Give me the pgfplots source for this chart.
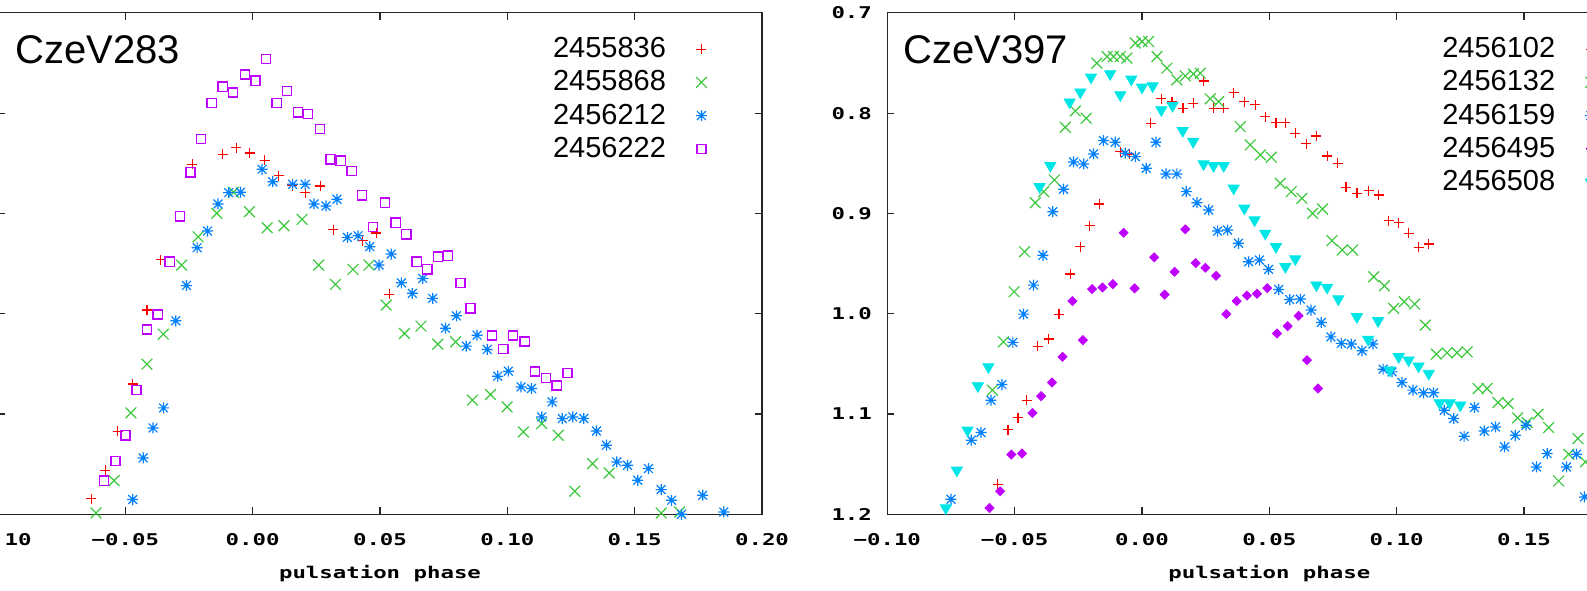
\documentclass[border=0pt]{standalone}
\usepackage{fontspec}
\usepackage{pgfplots}
\pgfplotsset{compat=1.18}
\setmainfont{Liberation Sans}
\newfontfamily\gpfont[FakeStretch=1.38]{DejaVu Sans Mono}
\newcommand\tickfont{\gpfont\bfseries\fontsize{8.1}{9}\selectfont}
\newcommand\legfont{\fontsize{14.5}{17}\selectfont}
\newcommand\titlefont{\fontsize{20}{24}\selectfont}
\definecolor{gpred}{RGB}{255,0,0}
\definecolor{gpgreen}{RGB}{60,200,60}
\definecolor{gpblue}{RGB}{0,128,255}
\definecolor{gppurple}{RGB}{192,0,255}
\definecolor{gpcyan}{RGB}{0,230,230}
\pgfdeclareplotmark{gpstar}{%
 \pgfpathmoveto{\pgfqpoint{-\pgfplotmarksize}{0pt}}\pgfpathlineto{\pgfqpoint{\pgfplotmarksize}{0pt}}%
 \pgfpathmoveto{\pgfqpoint{0pt}{-\pgfplotmarksize}}\pgfpathlineto{\pgfqpoint{0pt}{\pgfplotmarksize}}%
 \pgfpathmoveto{\pgfqpoint{-.8\pgfplotmarksize}{-.8\pgfplotmarksize}}\pgfpathlineto{\pgfqpoint{.8\pgfplotmarksize}{.8\pgfplotmarksize}}%
 \pgfpathmoveto{\pgfqpoint{-.8\pgfplotmarksize}{.8\pgfplotmarksize}}\pgfpathlineto{\pgfqpoint{.8\pgfplotmarksize}{-.8\pgfplotmarksize}}%
 \pgfusepathqstroke}
\pgfplotsset{
 gpaxis/.style={scale only axis, width=382pt, height=250.75pt, anchor=south west,
  xmin=-0.1, xmax=0.2, ymin=0.7, ymax=1.2, y dir=reverse,
  tick align=inside, major tick length=3.5pt,
  axis line style={line width=0.6pt, black!85}, every tick/.style={line width=0.6pt, black!85},
  xtick={-0.1,-0.05,0,0.05,0.1,0.15,0.2},
  xticklabels={−0.10,−0.05,0.00,0.05,0.10,0.15,0.20},
  ytick={0.7,0.8,0.9,1.0,1.1,1.2},
  ticklabel style={font=\tickfont},
  xticklabel style={anchor=base, inner sep=0pt, yshift=-15.5pt},
  yticklabel style={anchor=east, inner sep=0pt, xshift=-7.5pt},
  xlabel={pulsation phase},
  x label style={font=\tickfont, at={(axis description cs:0.5,0)}, anchor=base, inner sep=0pt, yshift=-32pt},
  legend cell align=right, legend plot pos=right,
  legend style={draw=none, fill=none, font=\legfont, at={(axis description cs:0.9285,0.9516)}, anchor=north east, inner sep=0pt, row sep=5pt, column sep=15pt, nodes={inner sep=0pt}},
 },
 pplus/.style={only marks, mark=+, color=gpred, mark size=2.5pt, mark options={line width=0.6pt}},
 pcross/.style={only marks, mark=x, color=gpgreen, mark size=3.8pt, mark options={line width=0.6pt}},
 pstar/.style={only marks, mark=gpstar, color=gpblue, mark size=2.75pt, mark options={line width=0.6pt}},
 psq/.style={only marks, mark=square, color=gppurple, mark size=2.3pt, mark options={line width=0.7pt}},
 pdia/.style={only marks, mark=square*, color=gppurple, mark size=1.6pt, mark options={rotate=45, fill=gppurple, draw=gppurple}},
 ptri/.style={only marks, mark=triangle*, color=gpcyan, mark size=3.2pt, mark options={rotate=180, fill=gpcyan, draw=gpcyan}},
}
\begin{document}
\begin{tikzpicture}
\path[use as bounding box] (0pt,0pt) rectangle (793.5pt,295pt);
\begin{axis}[gpaxis, at={(-1pt,37.85pt)}, yticklabels={}]
\addplot[pplus] coordinates {(-0.0065,0.8344)(-0.0118,0.8410)(-0.0012,0.8397)(-0.0237,0.8510)(0.0047,0.8470)(0.0102,0.8624)(0.0155,0.8724)(0.0206,0.8793)(0.0266,0.8727)(0.0316,0.9163)(0.0432,0.9272)(0.0485,0.9196)(-0.0361,0.9462)(0.0536,0.9807)(-0.0415,0.9964)(-0.0471,1.0700)(-0.0530,1.1172)(-0.0579,1.1561)(-0.0634,1.1843)};
\addlegendentry{2455836}
\addplot[pcross] coordinates {(-0.0141,0.8999)(-0.0013,0.8983)(-0.0075,0.8789)(0.0057,0.9143)(0.0123,0.9123)(0.0194,0.9059)(-0.0214,0.9233)(-0.0279,0.9515)(0.0259,0.9515)(0.0325,0.9708)(0.0394,0.9558)(0.0457,0.9515)(0.0524,0.9914)(-0.0351,1.0204)(-0.0415,1.0503)(-0.0478,1.0989)(-0.0544,1.1664)(-0.0615,1.1987)(0.0596,1.0197)(0.0661,1.0124)(0.0727,1.0303)(0.0797,1.0280)(0.0863,1.0862)(0.0934,1.0805)(0.0999,1.0929)(0.1063,1.1179)(0.1135,1.1095)(0.1200,1.1212)(0.1335,1.1494)(0.1400,1.1588)(0.1265,1.1770)(0.1604,1.1987)(0.1677,1.1977)};
\addlegendentry{2455868}
\addplot[pstar] coordinates {(0.0037,0.8560)(0.0079,0.8684)(0.0157,0.8710)(0.0206,0.8710)(-0.0094,0.8793)(-0.0048,0.8789)(-0.0136,0.8906)(0.0241,0.8906)(0.0288,0.8926)(0.0331,0.8859)(-0.0177,0.9176)(-0.0218,0.9342)(0.0372,0.9239)(0.0414,0.9223)(0.0460,0.9332)(0.0496,0.9515)(0.0544,0.9405)(-0.0260,0.9718)(0.0584,0.9692)(0.0668,0.9648)(0.0627,0.9797)(0.0707,0.9847)(0.0757,1.0144)(0.0800,1.0021)(0.0839,1.0323)(0.0881,1.0214)(0.0921,1.0356)(0.0962,1.0623)(0.1004,1.0573)(0.1054,1.0730)(0.1095,1.0746)(0.1176,1.0879)(0.1135,1.1029)(0.1216,1.1045)(0.1257,1.1029)(0.1300,1.1045)(0.1350,1.1169)(0.1389,1.1311)(0.1430,1.1478)(0.1472,1.1511)(0.1512,1.1661)(0.1554,1.1544)(0.1604,1.1754)(0.1645,1.1860)(0.1767,1.1810)(0.1850,1.1977)(0.1684,1.2000)(-0.0302,1.0071)(-0.0350,1.0939)(-0.0391,1.1139)(-0.0430,1.1438)(-0.0471,1.1853)};
\addlegendentry{2456212}
\addplot[psq] coordinates {(0.0053,0.7462)(-0.0030,0.7616)(0.0011,0.7676)(-0.0118,0.7736)(-0.0077,0.7795)(-0.0161,0.7901)(0.0135,0.7778)(0.0094,0.7901)(0.0178,0.7991)(0.0218,0.8008)(0.0265,0.8158)(-0.0203,0.8260)(0.0306,0.8460)(0.0346,0.8474)(0.0389,0.8577)(-0.0244,0.8590)(0.0430,0.8819)(0.0520,0.8893)(-0.0285,0.9029)(0.0562,0.9093)(0.0473,0.9136)(-0.0326,0.9482)(0.0603,0.9209)(0.0644,0.9482)(0.0686,0.9558)(0.0727,0.9432)(0.0767,0.9422)(0.0816,0.9692)(0.0855,0.9947)(0.0940,1.0217)(0.0984,1.0353)(0.1023,1.0217)(0.1068,1.0277)(0.1109,1.0576)(0.1152,1.0643)(0.1194,1.0716)(0.1236,1.0593)(-0.0373,1.0007)(-0.0415,1.0157)(-0.0456,1.0759)(-0.0499,1.1212)(-0.0539,1.1468)(-0.0584,1.1664)};
\addlegendentry{2456222}
\node[anchor=west, inner sep=0pt, font=\titlefont, xshift=8.5pt, yshift=-18.5pt] at (axis description cs:0,1) {CzeV283};
\end{axis}
\begin{axis}[gpaxis, at={(443.65pt,37.85pt)}, yticklabels={0.7,0.8,0.9,1.0,1.1,1.2}]
\addplot[pplus] coordinates {(0.0076,0.7858)(0.0118,0.7885)(0.0161,0.7951)(0.0201,0.7901)(0.0035,0.8101)(-0.0085,0.8384)(-0.0049,0.8407)(-0.0167,0.8906)(-0.0206,0.9123)(-0.0242,0.9332)(-0.0282,0.9605)(0.0242,0.7679)(0.0281,0.7951)(0.0321,0.7951)(0.0360,0.7795)(0.0402,0.7885)(0.0445,0.7918)(0.0484,0.8035)(0.0526,0.8095)(0.0563,0.8095)(0.0602,0.8201)(0.0645,0.8307)(0.0685,0.8228)(0.0727,0.8427)(0.0768,0.8500)(0.0801,0.8740)(0.0844,0.8799)(0.0890,0.8773)(0.0929,0.8816)(0.0969,0.9073)(0.1008,0.9093)(0.1047,0.9199)(0.1086,0.9338)(0.1126,0.9305)(-0.0326,1.0007)(-0.0367,1.0253)(-0.0410,1.0323)(-0.0452,1.0862)(-0.0487,1.1035)(-0.0526,1.1155)(-0.0567,1.1701)};
\addlegendentry{2456102}
\addplot[pcross] coordinates {(0.0000,0.7286)(0.0026,0.7286)(-0.0026,0.7302)(-0.0137,0.7436)(-0.0112,0.7436)(-0.0085,0.7436)(-0.0059,0.7452)(-0.0177,0.7502)(0.0059,0.7436)(0.0098,0.7552)(0.0137,0.7669)(0.0170,0.7629)(0.0202,0.7609)(0.0229,0.7602)(-0.0262,0.7978)(-0.0219,0.8051)(-0.0301,0.8141)(-0.0344,0.8667)(-0.0386,0.8783)(-0.0419,0.8893)(-0.0461,0.9382)(-0.0502,0.9781)(-0.0544,1.0280)(-0.0587,1.0762)(0.0268,0.7858)(0.0301,0.7885)(0.0386,0.8135)(0.0425,0.8317)(0.0465,0.8417)(0.0508,0.8440)(0.0543,0.8700)(0.0586,0.8783)(0.0628,0.8849)(0.0670,0.8999)(0.0709,0.8956)(0.0746,0.9272)(0.0786,0.9365)(0.0827,0.9365)(0.0910,0.9632)(0.0952,0.9722)(0.0988,0.9947)(0.1030,0.9881)(0.1071,0.9904)(0.1113,1.0114)(0.1156,1.0403)(0.1198,1.0390)(0.1237,1.0390)(0.1277,1.0380)(0.1320,1.0746)(0.1355,1.0746)(0.1398,1.0885)(0.1438,1.0895)(0.1475,1.1039)(0.1512,1.1085)(0.1555,1.1002)(0.1597,1.1135)(0.1636,1.1668)(0.1676,1.1401)(0.1712,1.1245)(0.1741,1.1478)};
\addlegendentry{2456132}
\addplot[pstar] coordinates {(-0.0151,0.8274)(-0.0105,0.8290)(-0.0066,0.8400)(-0.0026,0.8434)(-0.0190,0.8407)(-0.0229,0.8507)(-0.0269,0.8487)(0.0017,0.8550)(0.0055,0.8290)(0.0094,0.8607)(0.0137,0.8607)(0.0174,0.8783)(0.0216,0.8893)(-0.0308,0.8759)(-0.0350,0.8983)(-0.0389,0.9418)(-0.0426,0.9715)(0.0262,0.8966)(0.0297,0.9176)(0.0336,0.9166)(0.0379,0.9298)(0.0419,0.9482)(0.0461,0.9465)(0.0497,0.9558)(0.0537,0.9759)(0.0580,0.9859)(0.0622,0.9854)(0.0664,0.9964)(0.0704,1.0087)(0.0742,1.0231)(0.0783,1.0296)(0.0822,1.0303)(0.0864,1.0370)(0.0907,1.0303)(0.0947,1.0553)(0.0982,1.0580)(0.1021,1.0686)(0.1064,1.0762)(0.1106,1.0789)(0.1145,1.0789)(0.1187,1.0962)(0.1224,1.1045)(0.1265,1.1222)(0.1306,1.0935)(0.1344,1.1169)(0.1388,1.1129)(0.1424,1.1328)(0.1466,1.1212)(0.1508,1.1112)(0.1549,1.1528)(0.1591,1.1394)(0.1667,1.1528)(0.1706,1.1401)(0.1738,1.1827)(-0.0465,1.0004)(-0.0507,1.0286)(-0.0550,1.0706)(-0.0593,1.0862)(-0.0632,1.1185)(-0.0670,1.1261)(-0.0750,1.1850)};
\addlegendentry{2456159}
\addplot[pdia] coordinates {(-0.0072,0.9193)(0.0170,0.9159)(0.0048,0.9438)(0.0211,0.9495)(0.0128,0.9582)(-0.0196,0.9754)(-0.0155,0.9738)(-0.0114,0.9705)(-0.0029,0.9747)(0.0089,0.9809)(-0.0273,0.9874)(0.0249,0.9542)(0.0291,0.9622)(0.0331,1.0004)(0.0372,0.9874)(0.0412,0.9819)(0.0452,0.9801)(0.0492,0.9745)(0.0530,1.0197)(0.0572,1.0124)(0.0615,1.0021)(0.0648,1.0463)(0.0691,1.0746)(-0.0232,1.0263)(-0.0312,1.0430)(-0.0353,1.0686)(-0.0396,1.0822)(-0.0430,1.0989)(-0.0471,1.1394)(-0.0513,1.1404)(-0.0557,1.1770)(-0.0599,1.1937)};
\addlegendentry{2456495}
\addplot[ptri] coordinates {(0.0042,0.7729)(0.0000,0.7742)(-0.0042,0.7662)(-0.0125,0.7609)(-0.0200,0.7642)(-0.0242,0.7791)(-0.0284,0.7891)(-0.0085,0.7818)(0.0076,0.7968)(0.0120,0.7925)(0.0160,0.8175)(0.0201,0.8284)(0.0242,0.8507)(0.0281,0.8524)(0.0321,0.8524)(0.0360,0.8749)(0.0402,0.8949)(0.0442,0.9066)(0.0484,0.9199)(0.0526,0.9332)(0.0563,0.9532)(0.0602,0.9455)(0.0685,0.9715)(0.0727,0.9738)(0.0771,0.9854)(0.0844,1.0031)(0.0927,1.0071)(0.0888,1.0256)(0.0973,1.0563)(0.1008,1.0430)(0.1047,1.0463)(0.1086,1.0523)(0.1126,1.0596)(0.1169,1.0889)(0.1208,1.0889)(0.1250,1.0912)(-0.0360,0.8524)(-0.0402,0.8734)(-0.0603,1.0530)(-0.0644,1.0720)(-0.0685,1.1162)(-0.0727,1.1561)(-0.0770,1.1937)};
\addlegendentry{2456508}
\node[anchor=west, inner sep=0pt, font=\titlefont, xshift=8pt, yshift=-18.5pt] at (axis description cs:0,1) {CzeV397};
\end{axis}
\end{tikzpicture}
\end{document}
